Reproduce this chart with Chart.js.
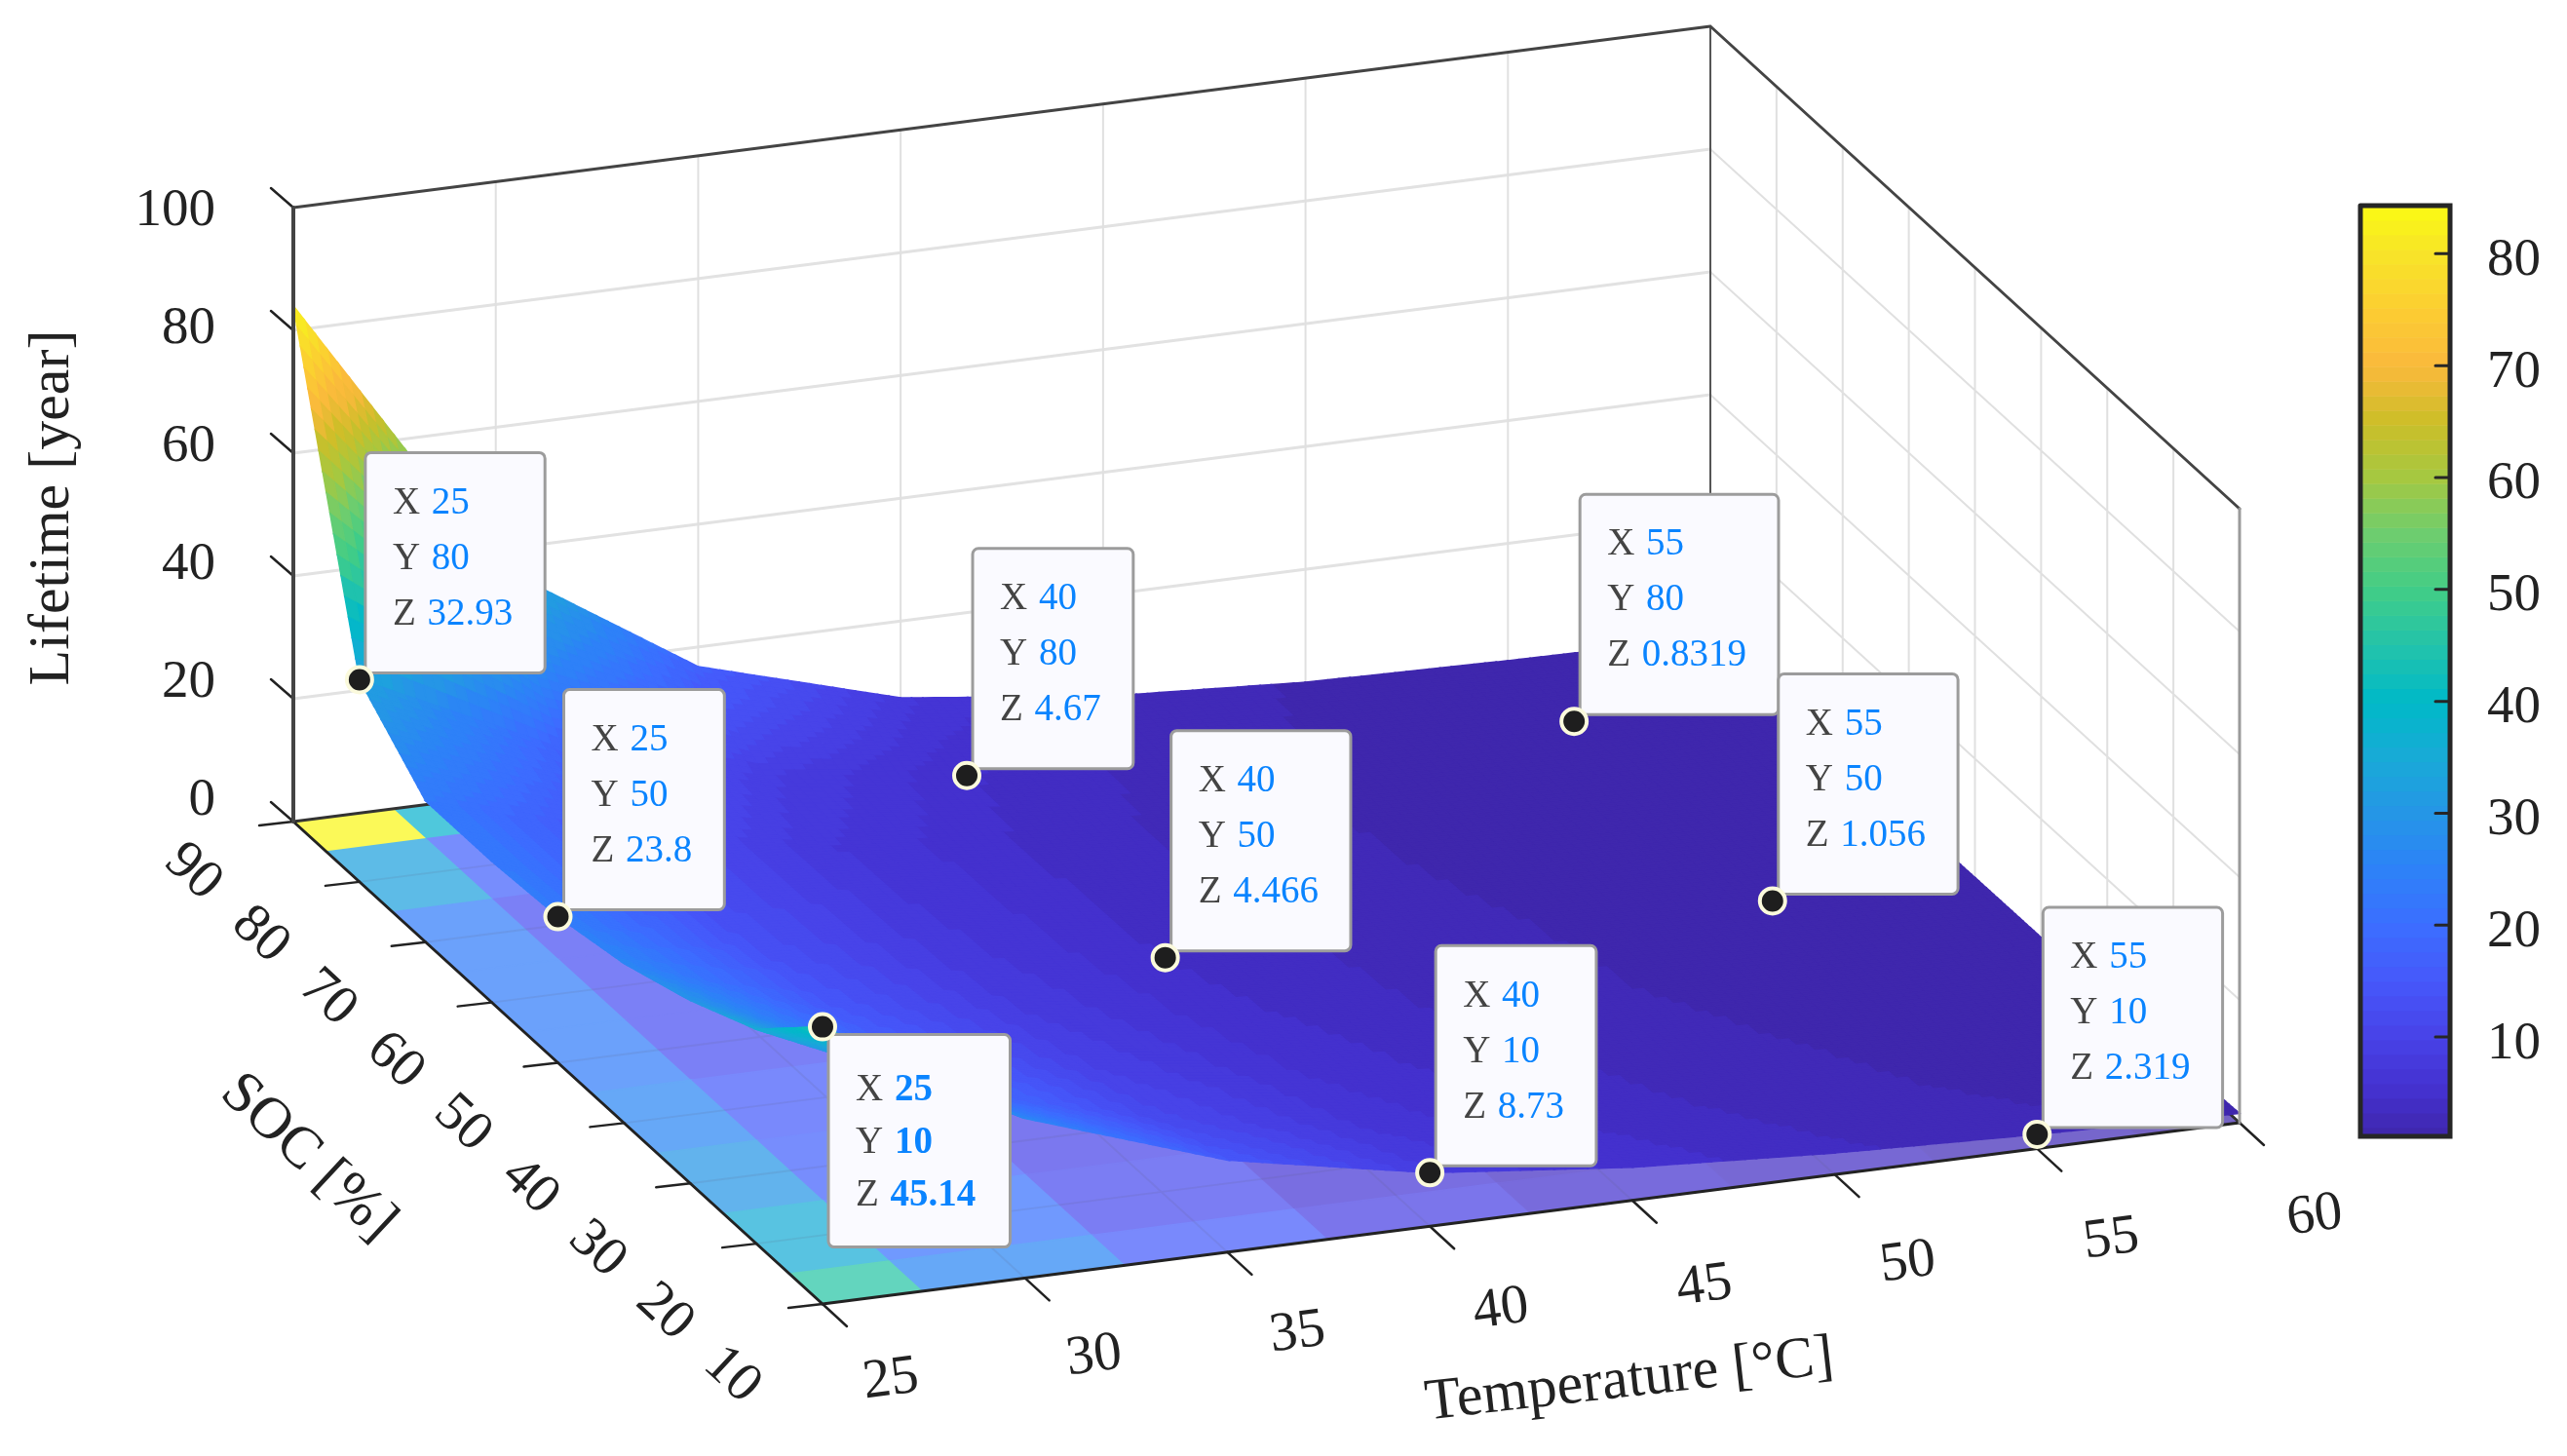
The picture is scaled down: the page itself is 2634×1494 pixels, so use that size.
<!DOCTYPE html>
<html><head><meta charset="utf-8">
<style>html,body{margin:0;padding:0;background:#fff}canvas{display:block}</style>
<script src="https://cdn.jsdelivr.net/npm/chart.js@4"></script>
</head><body><canvas id="c" width="2634" height="1494"></canvas>
<script>
// ---------- data ----------
const temperatures = [25,30,35,40,45,50,55,60];
const socLevels    = [90,80,70,60,50,40,30,20,10];
const life90 = [84,37.5,16.8,7.5,3.5,1.6,0.9,0.5];
const life80 = [32.93,17.5,8.8,4.67,2.6,1.47,0.8319,0.47];
const life70 = [23,12.9,7.2,4.2,2.4,1.4,0.82,0.48];
const life60 = [23,13,7.4,4.3,2.5,1.5,0.9,0.55];
const life50 = [23.8,13.6,7.8,4.466,2.8,1.72,1.056,0.65];
const life40 = [26,15,8.6,4.9,3.0,1.85,1.15,0.72];
const life30 = [29.8,17.2,9.9,5.7,3.5,2.15,1.35,0.85];
const life20 = [34.9,20.3,11.7,6.8,4.2,2.6,1.65,1.05];
const life10 = [45.14,26,15,8.73,5.4,3.5,2.319,1.5];
const tipT = ['25','25','25','40','40','40','55','55','55'];
const tipS = ['80','50','10','80','50','10','80','50','10'];
const tipZ = ['32.93','23.8','45.14','4.67','4.466','8.73','0.8319','1.056','2.319'];
const zTicks = [0,20,40,60,80,100];
const colorbarTicks = [10,20,30,40,50,60,70,80];
const titleT = 'Temperature [°C]', titleS = 'SOC [%]', titleZ = 'Lifetime [year]';

const lifeRows = [life90,life80,life70,life60,life50,life40,life30,life20,life10];
const cMin = 0.6, cMax = 84.3;

// ---------- colour map ----------
const cmStops = [[0.6,62,38,168],[5,68,48,205],[10,72,66,232],[15,70,88,250],[20,60,110,255],[25,45,130,248],[30,37,150,230],[35,24,170,215],[40,0,185,200],[45,35,195,170],[50,65,205,135],[55,110,205,110],[60,165,200,65],[65,205,190,40],[70,250,185,60],[75,252,205,50],[80,248,228,40],[84.3,250,250,20]];
function cmap(v){
  const n=64; let k=Math.floor((v-cMin)/(cMax-cMin)*n); k=Math.max(0,Math.min(n-1,k));
  const q=cMin+(k+0.5)/n*(cMax-cMin);
  for(let i=1;i<cmStops.length;i++){ if(q<=cmStops[i][0]){
    const a=cmStops[i-1],b=cmStops[i],t=(q-a[0])/(b[0]-a[0]);
    return [a[1]+(b[1]-a[1])*t,a[2]+(b[2]-a[2])*t,a[3]+(b[3]-a[3])*t].map(Math.round);
  }}
  return [250,250,20];
}
// ---------- orthographic projection of the 3-D box on the plane ----------
function P(T,S,Z){return {x:844+(T-25)/35*1454+(S-10)/80*(-543), y:1338+(T-25)/35*(-186)+(S-10)/80*(-495)+Z/100*(-630)};}
const gap={x:null,y:null};
function seg(list,a,b){list.push(a,b,gap);}
function zAt(T,S){
  const fi=Math.min(6.9999,(T-25)/5), i=Math.floor(fi), u=fi-i;
  const fj=Math.min(7.9999,(90-S)/10), j=Math.floor(fj), v=fj-j;
  return (lifeRows[j][i]*(1-u)+lifeRows[j][i+1]*u)*(1-v)+(lifeRows[j+1][i]*(1-u)+lifeRows[j+1][i+1]*u)*v;
}
// grid
const gridZ=[],gridV=[],gridFloor=[];
zTicks.forEach(z=>{ if(z>0&&z<100){ seg(gridZ,P(25,90,z),P(60,90,z)); seg(gridV,P(60,90,z),P(60,10,z)); }});
temperatures.forEach(t=>{ if(t>25&&t<60) seg(gridV,P(t,90,0),P(t,90,100)); if(t>25&&t<60) seg(gridFloor,P(t,90,0),P(t,10,0)); });
socLevels.forEach(s=>{ if(s>10&&s<90){ seg(gridV,P(60,s,0),P(60,s,100)); seg(gridFloor,P(25,s,0),P(60,s,0)); }});
// axes & ticks
const edgesBack=[],edgeBackV=[],edgesTop=[],edgesFront=[],ticks=[],edgeRight=[],edgeLeft=[];
seg(edgesBack,P(25,90,0),P(60,90,0));
seg(edgesBack,P(60,90,0),P(60,10,0));
seg(edgeBackV,P(60,90,0),P(60,90,100));
seg(edgesTop,P(25,90,100),P(60,90,100));
seg(edgesTop,P(60,90,100),P(60,10,100));
seg(edgesFront,P(25,90,0),P(25,10,0));
seg(edgesFront,P(25,10,0),P(60,10,0));
seg(edgeLeft,P(25,90,0),P(25,90,100));
seg(edgeRight,P(60,10,0),P(60,10,100));
zTicks.forEach(z=>{const p=P(25,90,z);seg(ticks,p,{x:p.x-23,y:p.y-20});});
socLevels.forEach(s=>{const p=P(25,s,0);seg(ticks,p,{x:p.x-35,y:p.y+4});});
temperatures.forEach(t=>{const p=P(t,10,0);seg(ticks,p,{x:p.x+25,y:p.y+23});});
// colorbar
const cbL=2422,cbR=2514;
const cbY=v=>1172-(v-cMin)*(1172-211)/(cMax-cMin);
const cbFrame=[{x:cbL,y:211},{x:cbR,y:211},{x:cbR,y:1166},{x:cbL,y:1166},{x:cbL,y:211}];
const cbTickLines=[]; colorbarTicks.forEach(v=>seg(cbTickLines,{x:cbR,y:cbY(v)},{x:cbR-15,y:cbY(v)}));
// vertices
const surfacePts=[]; socLevels.forEach((s,j)=>temperatures.forEach((t,i)=>surfacePts.push(P(t,s,lifeRows[j][i]))));
const floorPts=[]; socLevels.forEach(s=>temperatures.forEach(t=>floorPts.push(P(t,s,0))));
const tipPts=tipT.map((t,i)=>P(+t,+tipS[i],+tipZ[i]));

const lineDs=(data,color,width,order)=>({type:'scatter',data,showLine:true,spanGaps:false,borderColor:color,borderWidth:width,pointRadius:0,order,clip:false,tension:0,borderCapStyle:'round'});

const paintPlugin={id:'paint',
  beforeDatasetDraw(chart,args){
    const role=chart.data.datasets[args.index].role, ctx=chart.ctx;
    const X=chart.scales.x, Y=chart.scales.y;
    const px=p=>[X.getPixelForValue(p.x),Y.getPixelForValue(p.y)];
    const quad=(a,b,c,d,col,stroke)=>{
      ctx.beginPath();
      [a,b,c,d].forEach((p,i)=>{const q=px(p); i?ctx.lineTo(q[0],q[1]):ctx.moveTo(q[0],q[1]);});
      ctx.closePath(); ctx.fillStyle=col; ctx.fill();
      if(stroke){ctx.strokeStyle=col;ctx.lineWidth=1.5;ctx.stroke();}
    };
    if(role==='floor'){
      // pale map of the same values laid on the floor, one cell per grid value
      ctx.save();
      socLevels.forEach((s,j)=>temperatures.forEach((t,i)=>{
        const t0=Math.max(25,t-2.5),t1=Math.min(60,t+2.5),s0=Math.max(10,s-5),s1=Math.min(90,s+5);
        const c=cmap(lifeRows[j][i]);
        const mix=c.map(v=>Math.round(v*0.72+255*0.28));
        quad(P(t0,s0,0),P(t1,s0,0),P(t1,s1,0),P(t0,s1,0),`rgb(${mix})`,true);
      }));
      // faint floor grid seen through the map
      ctx.strokeStyle='rgba(90,90,120,0.13)';ctx.lineWidth=2;ctx.beginPath();
      for(let i=0;i<gridFloor.length;i+=3){const a=px(gridFloor[i]),b=px(gridFloor[i+1]);ctx.moveTo(a[0],a[1]);ctx.lineTo(b[0],b[1]);}
      ctx.stroke();
      ctx.restore();
    }
    if(role==='surface'){
      ctx.save();
      const sub=18;
      for(let j=0;j<8;j++){ for(let i=6;i>=0;i--){
        const sHi=socLevels[j],tLo=temperatures[i];
        for(let a=0;a<sub;a++){ for(let b=sub-1;b>=0;b--){
          const s1=sHi-10*a/sub,s0=sHi-10*(a+1)/sub,t0=tLo+5*b/sub,t1=tLo+5*(b+1)/sub;
          const zc=zAt((t0+t1)/2,(s0+s1)/2);
          quad(P(t0,s1,zAt(t0,s1)),P(t1,s1,zAt(t1,s1)),P(t1,s0,zAt(t1,s0)),P(t0,s0,zAt(t0,s0)),`rgb(${cmap(zc)})`,true);
        }}
      }}
      ctx.restore();
    }
    if(role==='markers'){
      // data-tip boxes under their markers
      ctx.save();
      tipPts.forEach((p,i)=>{
        const q=px(p), below=i===2, bold=below;
        const font=(bold?'bold ':'')+'39px "Liberation Serif"';
        ctx.font=font;
        const w=ctx.measureText('Z ').width+ctx.measureText(tipZ[i]).width+63;
        const h=below?218:226, L=q[0]+6, Tp=below?q[1]+8:q[1]-7-h;
        ctx.beginPath();ctx.roundRect(L,Tp,w,h,6);
        ctx.fillStyle='#FAFAFF';ctx.fill();
        ctx.strokeStyle='#9C9C9C';ctx.lineWidth=3;ctx.stroke();
        const lh=below?54:57, first=below?Tp+57:Tp+52;
        ctx.textBaseline='middle';ctx.textAlign='left';
        ['X','Y','Z'].forEach((n,k)=>{
          const y=first+k*lh;
          ctx.font='39px "Liberation Serif"';ctx.fillStyle='#444';ctx.fillText(n,L+28,y);
          const adv=ctx.measureText(n+' ').width;
          ctx.font=font;ctx.fillStyle='#0A84FF';
          ctx.fillText([tipT[i],tipS[i],tipZ[i]][k],L+28+adv+2,y);
        });
      });
      ctx.restore();
    }
  },
  beforeDatasetsDraw(chart){
    // colour bar levels
    const ctx=chart.ctx,X=chart.scales.x,Y=chart.scales.y;
    ctx.save();
    for(let k=0;k<64;k++){
      const a=cMin+k/64*(cMax-cMin),b=cMin+(k+1)/64*(cMax-cMin);
      const y1=Math.min(Y.getPixelForValue(cbY(a)),1166),y0=Y.getPixelForValue(cbY(b));
      ctx.fillStyle=`rgb(${cmap((a+b)/2)})`;
      ctx.fillRect(X.getPixelForValue(cbL),y0,cbR-cbL,y1-y0+0.5);
    }
    ctx.restore();
  },
  afterDraw(chart){
    const ctx=chart.ctx,X=chart.scales.x,Y=chart.scales.y;
    const text=(s,p,rot,font,al)=>{
      ctx.save();ctx.translate(X.getPixelForValue(p.x),Y.getPixelForValue(p.y));ctx.rotate(rot*Math.PI/180);
      ctx.font=font;ctx.fillStyle='#222';ctx.textAlign=al||'center';ctx.textBaseline='middle';
      ctx.fillText(s,0,0);ctx.restore();
    };
    const f='55px "Liberation Serif"', fr='57px "Liberation Serif"', ft='60px "Liberation Serif"';
    zTicks.forEach(z=>text(String(z),{x:221,y:822-z/100*605},0,f,'right'));
    temperatures.forEach((t,i)=>text(String(t),{x:914+i/7*1461,y:1416-i/7*168},-7.3,fr));
    socLevels.forEach((s,i)=>text(String(s),{x:198+i/8*553,y:895+i/8*516},43,fr));
    colorbarTicks.forEach(v=>text(String(v),{x:2552,y:cbY(v)+7},0,f,'left'));
    text(titleT,{x:1672,y:1417},-6.5,ft);
    text(titleS,{x:316,y:1188},43,ft);
    text(titleZ,{x:54,y:521},-90,ft);
  }
};

new Chart(document.getElementById('c'),{
  type:'scatter',
  data:{datasets:[
    lineDs(gridZ,'#E2E2E2',3,20),
    lineDs(gridV,'#E0E0E0',2,19),
    lineDs(edgeBackV,'#555',2,18),
    Object.assign(lineDs(floorPts,'rgba(0,0,0,0)',0,17),{role:'floor',showLine:false}),
    lineDs(edgesBack,'#333',3,16),
    lineDs(edgesTop,'#444',3,15),
    Object.assign(lineDs(surfacePts,'rgba(0,0,0,0)',0,10),{role:'surface',showLine:false}),
    lineDs(edgesFront,'#222',3,6),
    lineDs(ticks,'#222',2.5,5),
    lineDs(edgeLeft,'#444',4,4),
    lineDs(edgeRight,'#9A9A9A',3,4),
    lineDs(cbFrame,'#262626',5,3),
    lineDs(cbTickLines,'#262626',3,3),
    {type:'scatter',role:'markers',data:tipPts,pointRadius:13,pointBackgroundColor:'#1E1E1E',pointBorderColor:'#FBFADC',pointBorderWidth:4,order:1,clip:false}
  ]},
  options:{
    responsive:false,animation:false,events:[],
    layout:{padding:0,autoPadding:false},
    plugins:{legend:{display:false},tooltip:{enabled:false},title:{display:false}},
    scales:{
      x:{type:'linear',min:0,max:2634,display:false},
      y:{type:'linear',min:0,max:1494,reverse:true,display:false}
    }
  },
  plugins:[paintPlugin]
});
</script></body></html>
